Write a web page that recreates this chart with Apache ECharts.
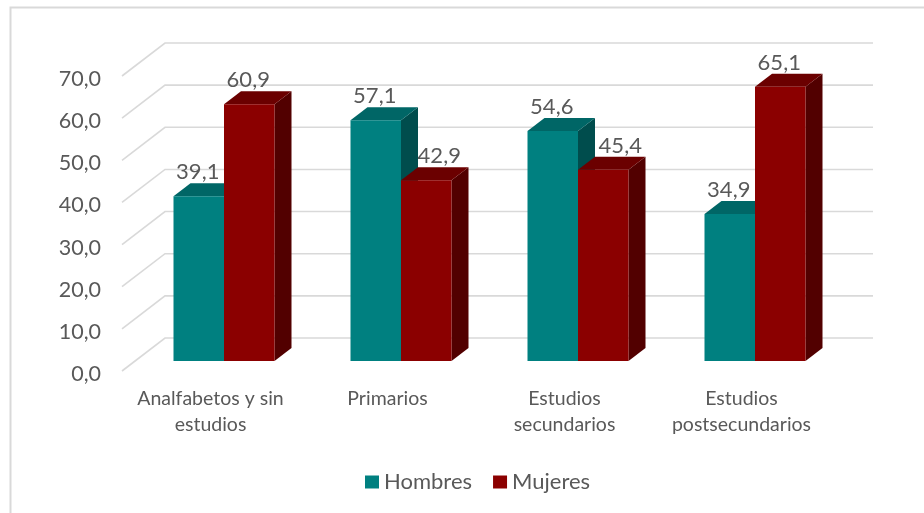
<!DOCTYPE html>
<html>
<head>
<meta charset="utf-8">
<style>html,body{margin:0;padding:0;background:#fff}#c{width:924px;height:513px}</style>
<script src="https://cdn.jsdelivr.net/npm/echarts@6/dist/echarts.min.js"></script>
</head>
<body>
<div id="c"></div>
<script>
var categories = ['Analfabetos y sin\nestudios', 'Primarios', 'Estudios\nsecundarios', 'Estudios\npostsecundarios'];
var hombres = [39.1, 57.1, 54.6, 34.9];
var mujeres = [60.9, 42.9, 45.4, 65.1];
var ticks = [0, 10, 20, 30, 40, 50, 60, 70];

var FONT = 'Lato';
var wallDX = 43, wallDY = 33;   // floor depth
var barOffX = 13.5, barOffY = 10; // bar front plane behind chart front plane
var barDX = 17, barDY = 13;     // bar depth
var barFrac = 50.5 / 177;

function fmt(v) { return v.toFixed(1).replace('.', ','); }

function renderGrid(params, api) {
  var p = api.coord([0, api.value(1)]);
  var cs = params.coordSys;
  var x0 = cs.x, y = p[1];
  var x1 = cs.x + cs.width;
  return {
    type: 'polyline',
    shape: { points: [[x0, y], [x0 + wallDX, y - wallDY], [x1 + wallDX, y - wallDY]] },
    style: { fill: null, stroke: '#d9d9d9', lineWidth: 1.6 },
    silent: true
  };
}

function makeBar(side, front, top, right, labelShift) {
  return function (params, api) {
    var v = api.value(1);
    var idx = api.value(0);
    var c = api.coord([idx, v]);
    var b = api.coord([idx, 0]);
    var w = api.size([1, 0])[0] * barFrac;
    var xl = c[0] + barOffX + (side < 0 ? -w : 0);
    var xr = xl + w;
    var yt = c[1] - barOffY;
    var yb = b[1] - barOffY;
    return {
      type: 'group',
      children: [
        { type: 'polygon', shape: { points: [[xr, yt], [xr + barDX, yt - barDY], [xr + barDX, yb - barDY], [xr, yb]] }, style: { fill: right } },
        { type: 'polygon', shape: { points: [[xl, yt], [xl + barDX, yt - barDY], [xr + barDX, yt - barDY], [xr, yt]] }, style: { fill: top } },
        { type: 'rect', shape: { x: xl, y: yt, width: w, height: yb - yt }, style: { fill: front } },
        { type: 'text', z2: 50, style: { text: fmt(v), x: (xl + xr) / 2 - 1 + (labelShift[idx] || 0), y: yt - 24, align: 'center', verticalAlign: 'middle', font: '22px ' + FONT, fill: '#595959' } }
      ]
    };
  };
}

function pairs(arr) { return arr.map(function (v, i) { return [i, v]; }); }

var chart = echarts.init(document.getElementById('c'), null, { renderer: 'canvas' });
chart.setOption({
  animation: false,
  backgroundColor: '#ffffff',
  textStyle: { fontFamily: FONT },
  grid: { left: 122, right: 94, top: 76, bottom: 142 },
  xAxis: {
    type: 'category',
    data: categories,
    axisLine: { show: false },
    axisTick: { show: false },
    axisLabel: { color: '#595959', fontSize: 19.5, fontFamily: FONT, margin: 15, lineHeight: 26, interval: 0 }
  },
  yAxis: {
    type: 'value',
    min: 0,
    max: 70,
    interval: 10,
    splitLine: { show: false },
    axisLine: { show: false },
    axisTick: { show: false },
    axisLabel: { color: '#595959', fontSize: 21.5, fontFamily: FONT, margin: 21, verticalAlign: 'top', lineHeight: 6, formatter: fmt }
  },
  legend: {
    data: ['Hombres', 'Mujeres'],
    left: 360,
    top: 466,
    icon: 'rect',
    itemWidth: 14,
    itemHeight: 13,
    itemGap: 21,
    textStyle: { color: '#595959', fontSize: 22, fontFamily: FONT }
  },
  graphic: [
    { type: 'polyline', silent: true, shape: { points: [[10.5, 513], [10.5, 7.5], [924, 7.5]] }, style: { fill: null, stroke: '#d9d9d9', lineWidth: 2 } }
  ],
  series: [
    { type: 'custom', name: 'grid', silent: true, z: 1, data: ticks.map(function (t) { return [0, t]; }), renderItem: renderGrid },
    { type: 'custom', name: 'Hombres', z: 2, itemStyle: { color: '#008080' }, data: pairs(hombres), renderItem: makeBar(-1, '#008080', '#006666', '#004d4d', [0, 0, 0, 0]) },
    { type: 'custom', name: 'Mujeres', z: 3, itemStyle: { color: '#8b0000' }, data: pairs(mujeres), renderItem: makeBar(1, '#8b0000', '#6b0000', '#520000', [0, 14, 18, 0]) }
  ]
});
</script>
</body>
</html>
